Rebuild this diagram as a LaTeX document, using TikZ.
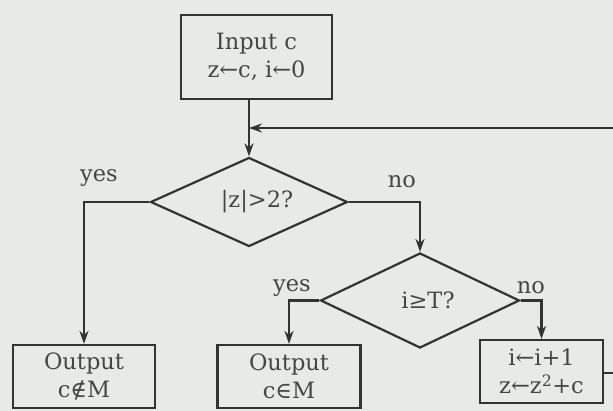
\documentclass[tikz,border=0pt]{standalone}
\usepackage{fontspec}
\setmainfont{DejaVu Serif}
\usetikzlibrary{shapes.geometric,arrows.meta}
\definecolor{bg}{HTML}{E8EAE8}
\definecolor{ln}{HTML}{333333}
\definecolor{tx}{HTML}{454545}
\begin{document}
\begin{tikzpicture}[x=1pt,y=-1pt,
  every node/.style={text=tx,font=\fontsize{22.5}{28}\selectfont},
  box/.style={draw=ln,line width=2.2pt,rectangle,align=center,inner sep=0pt},
  decision/.style={draw=ln,line width=2.2pt,diamond,shape aspect=2.2,inner sep=0pt},
  link/.style={draw=ln,line width=2.2pt},
  arr/.style={link,-{Stealth[length=13pt,width=9pt]}},
  lab/.style={inner sep=0pt}]
\fill[bg] (0,0) rectangle (613,411);
\useasboundingbox (0,0) rectangle (613,411);
\node[box,minimum width=151pt,minimum height=84pt] (input) at (256.5,57) {Input c\\z←c, i←0};
\node[decision,minimum width=197pt,minimum height=89pt] (d1) at (249,202) {\hspace*{16pt}|z|>2?};
\node[decision,minimum width=199pt,minimum height=95pt] (d2) at (420,300.5) {\hspace*{16pt}i≥T?};
\node[box,minimum width=142pt,minimum height=63pt] (o1) at (84,376.5) {Output\\c∉M};
\node[box,minimum width=143pt,minimum height=63pt] (o2) at (289,376.5) {Output\\c∈M};
\node[box,minimum width=123pt,minimum height=63pt] (upd) at (541.5,371.5) {i←i+1\\z←z\textsuperscript{2}+c};
\coordinate (j) at (249,128);
\coordinate (edgeA) at (613,128);
\coordinate (edgeB) at (613,373);
\node[lab] (yes1) at (99,178) {yes};
\node[lab] (no1) at (402,182) {no};
\node[lab] (yes2) at (292,288) {yes};
\node[lab] (no2) at (531,288) {no};
\draw[arr] (input.south -| d1.north) -- (d1.north);
\draw[arr] (edgeA) -- (j);
\draw[arr] (d1.west) -| (o1.north);
\draw[arr] (d1.east) -| (d2.north);
\draw[arr] (d2.west) -| (o2.north);
\draw[arr] (d2.east) -| (upd.north);
\draw[link] (upd.east |- edgeB) -- (edgeB);
\end{tikzpicture}
\end{document}
